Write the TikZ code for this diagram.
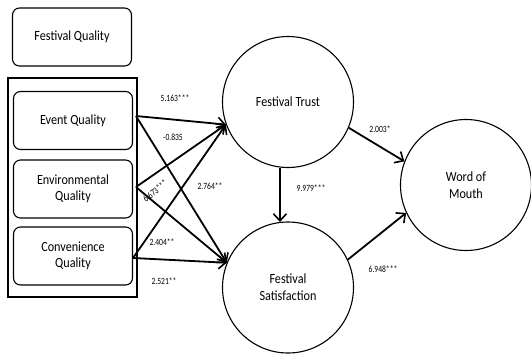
\documentclass[tikz,border=0pt]{standalone}
\usepackage{fontspec}
\setmainfont[FakeStretch=0.87]{Carlito}
\newfontfamily\lblfont[FakeStretch=0.8]{Carlito}
\usetikzlibrary{arrows.meta}
\begin{document}
\begin{tikzpicture}[x=1pt,y=-1pt,
  qbox/.style={draw,line width=1.1pt,rounded corners=7pt,minimum width=119pt,minimum height=58pt,align=center,font=\fontsize{14}{15}\selectfont,inner sep=0pt},
  lv/.style={draw,circle,line width=1.1pt,minimum size=131pt,align=center,font=\fontsize{14}{16}\selectfont,inner sep=0pt},
  path/.style={line width=1.8pt,-{Straight Barb[length=7pt,width=13pt,line width=1.6pt]}},
  coef/.style={font=\lblfont\fontsize{9.5}{10}\selectfont,inner sep=0pt}]
\useasboundingbox (0,0) rectangle (531,354);
\node[qbox] (fq) at (72,37) {Festival Quality};
\node[draw,line width=1.1pt,minimum width=129pt,minimum height=219pt,inner sep=0pt] (grp) at (72.5,187.5) {};
\node[qbox] (eq) at (73,120.5) {Event Quality};
\node[qbox] (env) at (73,189) {Environmental\\[1pt]Quality};
\node[qbox] (cq) at (73,256) {Convenience\\[1pt]Quality};
\node[lv] (ft) at (288,102) {Festival Trust};
\node[lv] (fs) at (288,287.5) {Festival\\[1pt]Satisfaction};
\node[lv] (wom) at (466,185) {Word of\\[1pt]Mouth};
\coordinate (eqo) at (136,116);
\coordinate (envo) at (136,187);
\coordinate (cqo) at (133,258);
\draw[path] (eqo) -- (ft.200);
\draw[path] (eqo) -- (fs.158);
\draw[path] (envo) -- (ft.200);
\draw[path] (envo) -- (fs.158);
\draw[path] (cqo) -- (ft.200);
\draw[path] (cqo) -- (fs.158);
\draw[path] (ft.263) -- (fs.97);
\draw[path] (ft.-23) -- (wom.159);
\draw[path] (fs.25) -- (wom.205);
\node[coef] (c1) at (175,98) {5.163***};
\node[coef] (c2) at (173,137) {-0.835};
\node[coef,rotate=40] (c3) at (155,191) {6.673***};
\node[coef] (c4) at (210,186) {2.764**};
\node[coef] (c5) at (162,242) {2.404**};
\node[coef] (c6) at (164,281) {2.521**};
\node[coef] (c7) at (380,129) {2.003*};
\node[coef] (c8) at (311,188) {9.979***};
\node[coef] (c9) at (383,269) {6.948***};
\end{tikzpicture}
\end{document}
